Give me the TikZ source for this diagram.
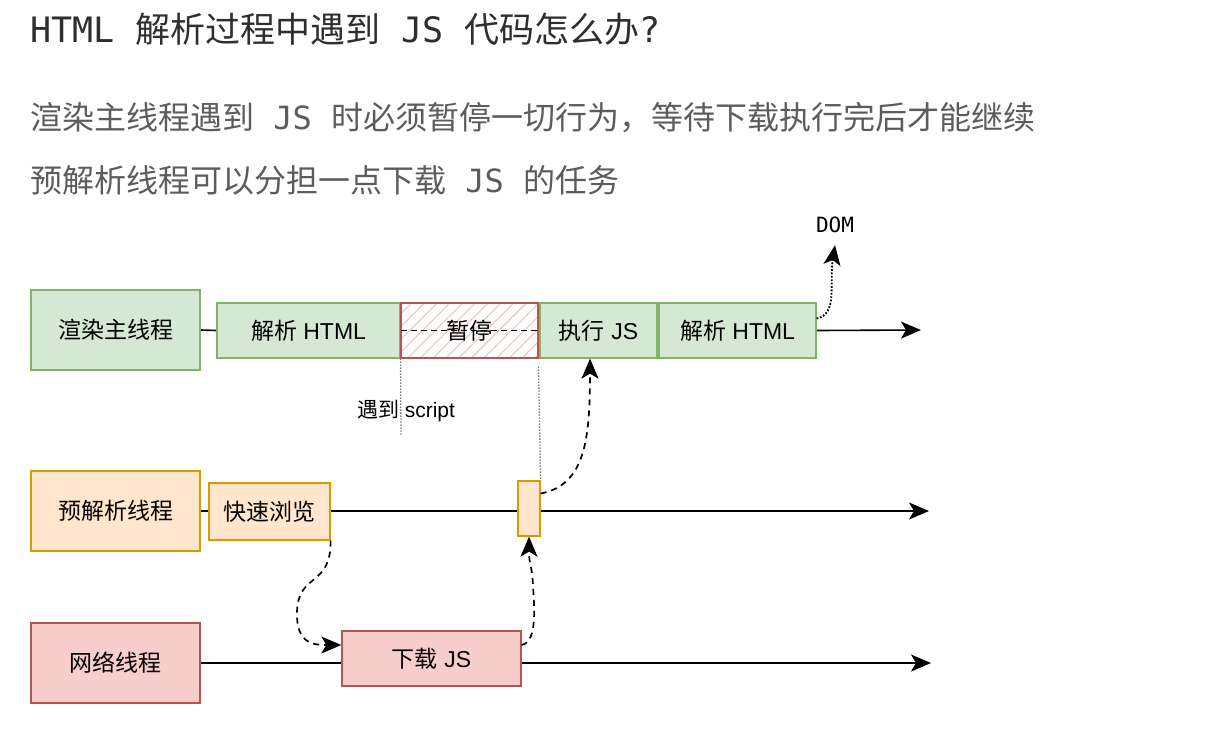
\documentclass[tikz,border=0pt]{standalone}
\usepackage{fontspec}
\setmainfont{Liberation Sans}
\newfontfamily\cjk{Noto Sans CJK SC}
\newfontfamily\monof{DejaVu Sans Mono}
\usetikzlibrary{arrows.meta,patterns.meta,backgrounds}
\definecolor{gfill}{HTML}{D5E8D4}
\definecolor{gline}{HTML}{82B366}
\definecolor{ofill}{HTML}{FFE6CC}
\definecolor{oline}{HTML}{D79B00}
\definecolor{rfill}{HTML}{F8CECC}
\definecolor{rline}{HTML}{B85450}
\definecolor{hatch}{HTML}{F4B6B4}
\definecolor{titlec}{HTML}{2E2E2E}
\definecolor{subc}{HTML}{5C5C5C}
\newcommand{\C}[1]{{\cjk #1}}
\tikzset{
  box/.style={draw, line width=1.3pt, inner sep=0pt, font=\fontsize{23}{27}\selectfont, text=black},
  gbox/.style={box, fill=gfill, draw=gline},
  obox/.style={box, fill=ofill, draw=oline},
  rbox/.style={box, fill=rfill, draw=rline},
  tline/.style={line width=1.6pt, -{Stealth[length=20pt,width=17pt,inset=5pt]}},
  plain/.style={line width=1.6pt},
  dasharrow/.style={line width=1.7pt, dash pattern=on 6pt off 5pt, -{Stealth[length=20pt,width=17pt,inset=5pt]}},
  dotarrow/.style={line width=1.8pt, dash pattern=on 1.8pt off 1.6pt, -{Stealth[length=20pt,width=17pt,inset=5pt]}},
  guide/.style={line width=1.3pt, gray, dash pattern=on 1.5pt off 1.5pt},
  headline/.style={anchor=base west, inner sep=0pt}
}
\begin{document}
\begin{tikzpicture}[x=1pt,y=-1pt]
\useasboundingbox (0,0) rectangle (1213,753);
% headings
\node[headline, text=titlec, font=\fontsize{35}{40}\selectfont] (title) at (30,42)
  {\monof HTML \C{解析过程中遇到} JS \C{代码怎么办}?};
\node[headline, text=subc, font=\fontsize{32}{38}\selectfont] (sub1) at (30,129)
  {\C{渲染主线程遇到}\monof{} JS \C{时必须暂停一切行为，等待下载执行完后才能继续}};
\node[headline, text=subc, font=\fontsize{32}{38}\selectfont] (sub2) at (30,192)
  {\C{预解析线程可以分担一点下载}\monof{} JS \C{的任务}};

% row 1
\node[gbox, minimum width=169pt, minimum height=80pt] (r1) at (115.5,330) {\C{渲染主线程}};
\node[gbox, minimum width=183pt, minimum height=55pt] (a1) at (308.5,330.5) {\C{解析} HTML};
\node[box, draw=rline, line width=2.2pt, minimum width=137pt, minimum height=55pt,
      pattern={Lines[angle=45,distance=9pt,line width=0.9pt]}, pattern color=hatch] (p) at (469.5,330.5) {};
\node[gbox, minimum width=117pt, minimum height=55pt] (e) at (598.5,330.5) {\C{执行} JS};
\node[gbox, minimum width=157pt, minimum height=55pt] (a2) at (737.5,330.5) {\C{解析} HTML};
\coordinate (end1) at (921,330);
\draw[line width=1.6pt, dash pattern=on 6pt off 4pt] (p.west) -- (p.east);
\node[font=\fontsize{23}{27}\selectfont, inner sep=0pt] (plabel) at (p.center) {\C{暂停}};

% row 2
\node[obox, minimum width=169pt, minimum height=80pt] (r2) at (115.5,511) {\C{预解析线程}};
\node[obox, minimum width=121pt, minimum height=57pt] (q) at (269.5,511.5) {\C{快速浏览}};
\node[obox, minimum width=22pt, minimum height=55pt] (s) at (529,508.5) {};
\coordinate (end2) at (929,511);

% row 3
\node[rbox, minimum width=169pt, minimum height=80pt] (r3) at (115.5,663) {\C{网络线程}};
\node[rbox, minimum width=179pt, minimum height=55pt] (d) at (431.5,658.5) {\C{下载} JS};
\coordinate (end3) at (931,663);

% labels
\node[font=\fontsize{21}{25}\selectfont, inner sep=0pt] (lbl) at (406,411) {\C{遇到} script};
\node[font=\monof\fontsize{21}{24}\selectfont, inner sep=0pt] (dom) at (835,225) {DOM};
\coordinate (g1) at (401,436);

\begin{scope}[on background layer]
  \draw[plain] (r1.east) -- (a1.west);
  \draw[tline] (a2.east) -- (end1);
  \draw[tline] (r2.east) -- (end2);
  \draw[tline] (r3.east) -- (end3);
\end{scope}

% guides
\draw[guide] (p.south west) -- (g1);
\draw[guide] ([yshift=-8pt]p.south east) -- (s.north east);

% connectors
\draw[dasharrow] (q.south east) .. controls (331,588) and (298,572) .. (297,612)
   .. controls (296,645) and (315,645) .. ([yshift=13.5pt]d.west);
\draw[dasharrow] ([yshift=13.5pt]d.east) .. controls (538,642) and (534,605) .. (533,585)
   .. controls (532,565) and (529,565) .. (s.south);
\draw[dasharrow] ([yshift=15pt]s.east) .. controls (585,485) and (590,440) .. ([xshift=-8.5pt]e.south);
\draw[dotarrow] ([yshift=12pt]a2.east) .. controls (838,314) and (829,285) .. ([yshift=-12pt]dom.south);
\end{tikzpicture}
\end{document}
